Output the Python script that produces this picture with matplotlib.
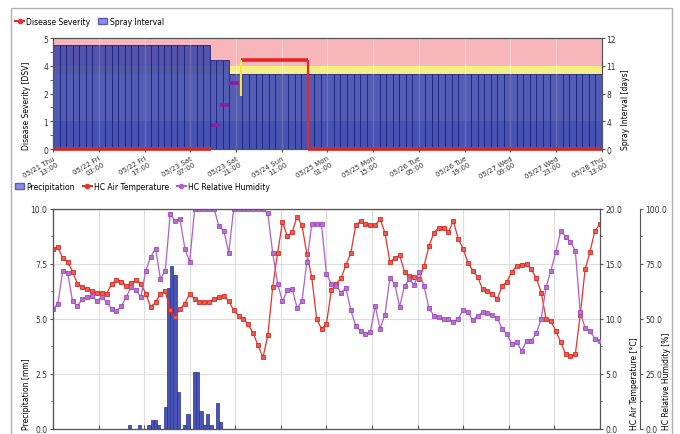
import matplotlib.pyplot as plt
import matplotlib.patches as mpatches
from matplotlib.lines import Line2D
from matplotlib.ticker import FormatStrFormatter, AutoMinorLocator
import numpy as np

# ---------------- data ----------------
tick_hours = [0, 14, 28, 42, 56, 70, 84, 98, 112, 126, 140, 154, 168]
tick_labels = ['05/21 Thu\n13:00', '05/22 Fri\n03:00', '05/22 Fri\n17:00',
               '05/23 Sat\n07:00', '05/23 Sat\n21:00', '05/24 Sun\n11:00',
               '05/25 Mon\n01:00', '05/25 Mon\n15:00', '05/26 Tue\n05:00',
               '05/26 Tue\n19:00', '05/27 Wed\n09:00', '05/27 Wed\n23:00',
               '05/28 Thu\n13:00']

# spray interval, one bar every 2 hours [days]
spray_step = 2
spray_days = [11.75] * 24 + [11.2] * 3 + [10.1] * 57

# disease severity steps
sev_start = [0, 48.5, 51, 54, 57.5, 78]
sev_end = [48.5, 51, 54, 57, 78, 168]
sev_value = [0, 1.1, 2.0, 3.0, 4.0, 0]
sev_color = ['#e8262a', '#8a1fa0', '#8a1fa0', '#8a1fa0', '#e8262a', '#e8262a']
jump_hour = [57.5, 78]
jump_from = [2.4, 4.0]
jump_to = [4.0, 0.0]
jump_color = ['#f2e64a', '#e8262a']

# hourly precipitation [mm] (hours with rain only)
rain_hour = [23, 26, 29, 30, 31, 32, 34, 35, 36, 37, 38, 40, 41, 43, 44,
             45, 46, 47, 48, 50, 51]
rain_mm = [0.2, 0.2, 0.2, 0.4, 0.4, 0.2, 1.0, 6.4, 7.4, 7.0, 1.7, 0.2, 0.7,
           2.6, 2.6, 0.8, 0.2, 0.7, 0.2, 1.2, 0.3]

# air temperature / relative humidity, every 1.5 h
meas_step = 1.5
temp = [16.4, 16.5, 15.5, 15.2, 14.3, 13.2, 12.9, 12.7, 12.5, 12.4,
        12.4, 12.3, 13.2, 13.5, 13.4, 13.0, 13.3, 13.5, 13.2, 12.3,
        11.1, 11.5, 12.3, 12.5, 10.8, 10.2, 10.9, 11.4, 12.3, 11.8,
        11.5, 11.5, 11.5, 11.8, 12.0, 12.1, 11.6, 10.8, 10.3, 10.0,
        9.5, 8.7, 7.6, 6.5, 8.5, 12.9, 16.0, 18.8, 17.5, 17.9,
        19.3, 18.5, 15.9, 13.8, 10.0, 9.1, 9.5, 12.6, 13.2, 13.7,
        14.9, 16.0, 18.5, 18.9, 18.6, 18.5, 18.5, 19.1, 17.8, 15.2,
        15.5, 15.8, 14.3, 13.9, 13.8, 13.6, 14.8, 16.6, 17.8, 18.3,
        18.3, 17.9, 18.9, 17.3, 16.4, 15.1, 14.4, 13.8, 12.7, 12.5,
        12.3, 11.8, 13.0, 13.4, 14.3, 14.8, 14.9, 15.0, 14.5, 13.7,
        12.4, 10.0, 9.8, 8.9, 7.9, 6.8, 6.6, 6.8, 10.4, 14.5,
        16.1, 18.0, 18.6]
hum = [54.5, 57, 72, 71, 58, 56, 59, 60, 60.5, 58.2,
       60, 57.7, 54.5, 53.6, 55.9, 60, 64.5, 63, 60, 72,
       78.2, 82, 68.2, 72, 97.7, 94.5, 95.5, 82, 76, 100,
       100, 100, 100, 100, 92, 90, 80, 100, 100, 100,
       100, 100, 100, 100, 98, 80, 66, 58, 63, 63.6,
       55, 58, 76, 93, 93, 93, 70.5, 66, 65, 62,
       64, 54, 47, 44.5, 43.2, 44, 56, 45.5, 52, 68.5,
       66, 55.5, 65, 68, 65.5, 71.4, 65, 55, 51.5, 51,
       50, 50, 48.8, 50, 54, 53, 49.4, 51.5, 53, 52.5,
       51.6, 50.4, 45.5, 43, 38.6, 39.5, 35.5, 40, 40, 43.5,
       50, 64.5, 72, 80.5, 90, 87.3, 85, 81, 53, 46,
       44.5, 41, 40]

# spray interval axis is not linear: days -> position
days_pts = [0, 4, 8, 11, 12]
dsv_pts = [0, 1.25, 2.5, 3.75, 5]

plt.rcParams['font.family'] = ['DejaVu Sans']
plt.rcParams['font.size'] = 5.5
plt.rcParams['axes.edgecolor'] = '#555555'
plt.rcParams['xtick.color'] = '#555555'
plt.rcParams['ytick.color'] = '#555555'
plt.rcParams['xtick.labelcolor'] = '#333333'
plt.rcParams['ytick.labelcolor'] = '#333333'

RED = '#e8322a'
PURPLE = '#b05ec8'
BAR = '#3c46aa'

fig = plt.figure(figsize=(6.8, 4.35), dpi=100)
fig.patches.append(mpatches.Rectangle((11 / 680, -0.01), 661 / 680, 1 - 9 / 435 + 0.01,
                                      transform=fig.transFigure, fill=False,
                                      edgecolor='#b0b0b0', lw=1))

# ---------------- top chart ----------------
ax = fig.add_axes([0.078, 0.655, 0.807, 0.255])
ax2 = ax.twinx()
ax2.set_yscale('function', functions=(lambda d: np.interp(d, days_pts, dsv_pts),
                                      lambda s: np.interp(s, dsv_pts, days_pts)))
ax2.set_ylim(0, 12)
ax2.axhspan(11, 12, color='#f6b6ba', lw=0)
ax2.axhspan(10.1, 11, color='#f7ef86', lw=0)
ax2.axhspan(0, 4, color='#8fb2f4', lw=0)
spray_hours = np.arange(len(spray_days)) * spray_step
ax2.bar(spray_hours, spray_days, width=spray_step, align='edge', color=BAR,
        alpha=0.88, edgecolor='#1d2580', lw=0.7)
for h in tick_hours[1:-1]:
    ax2.axvline(h, color='white', alpha=0.35, lw=0.8)
ax2.set_yticks(days_pts)
ax2.set_yticklabels([str(d) for d in days_pts])
ax2.set_ylabel('Spray Interval [days]', loc='bottom')
ax2.yaxis.set_label_coords(1.035, 0)

ax.set_zorder(ax2.get_zorder() + 1)
ax.patch.set_visible(False)
ax.hlines(sev_value, sev_start, sev_end, colors=sev_color, lw=2.6, clip_on=False)
ax.vlines(jump_hour, jump_from, jump_to, colors=jump_color, lw=1.6)
ax.set_xlim(0, 168)
ax.set_ylim(0, 5)
ax.set_yticks(dsv_pts)
ax.yaxis.set_major_formatter(FormatStrFormatter('%.0f'))
ax.yaxis.set_minor_locator(AutoMinorLocator(2))
ax.set_ylabel('Disease Severity [DSV]', loc='bottom')
ax.yaxis.set_label_coords(-0.04, 0)
ax.set_xticks(tick_hours)
ax.set_xticklabels(tick_labels, rotation=30, ha='right', rotation_mode='anchor',
                   fontsize=5)
ax.tick_params(axis='x', length=2, pad=2)
ax.tick_params(axis='y', length=2, pad=1.5)
ax2.tick_params(axis='y', length=2, pad=1.5)

top_handles = [Line2D([], [], color=RED, marker='o', ms=3, lw=1.5),
               mpatches.Patch(facecolor='#8c8ce0', edgecolor='#5c5cb0')]
fig.legend(top_handles, ['Disease Severity', 'Spray Interval'], loc='center left',
           bbox_to_anchor=(0.012, 0.949), ncol=2, frameon=False, fontsize=5.5,
           handlelength=1.2, handleheight=0.8, columnspacing=1.0, handletextpad=0.3)

# ---------------- bottom chart ----------------
ax3 = fig.add_axes([0.078, 0.0115, 0.804, 0.506])
ax4 = ax3.twinx()
ax5 = ax3.twinx()
ax5.spines['right'].set_position(('axes', 1.073))

meas_hours = np.arange(len(temp)) * meas_step
ax3.bar(rain_hour, rain_mm, width=1, align='edge', color='#4b55b8',
        edgecolor='#262f8c', lw=0.5, zorder=3)
ax4.plot(meas_hours, temp, color=RED, lw=0.9, marker='s', ms=3,
         markerfacecolor='#f05a50', markeredgecolor='#d42a22', markeredgewidth=0.6)
ax5.plot(meas_hours, hum, color=PURPLE, lw=0.9, marker='s', ms=3,
         markerfacecolor='#bb70d4', markeredgecolor='#9a48b8', markeredgewidth=0.6)

ax3.set_xlim(0, 168)
ax3.set_ylim(0, 10)
ax4.set_ylim(0, 20)
ax5.set_ylim(0, 100)
ax3.set_yticks([0, 2.5, 5, 7.5, 10])
ax4.set_yticks([0, 5, 10, 15, 20])
ax5.set_yticks([0, 25, 50, 75, 100])
for a in (ax3, ax4, ax5):
    a.yaxis.set_major_formatter(FormatStrFormatter('%.1f'))
    a.yaxis.set_minor_locator(AutoMinorLocator(2))
    a.tick_params(axis='y', which='major', length=2.5, pad=1.5)
    a.tick_params(axis='y', which='minor', length=1.5)
ax3.set_xticks(tick_hours)
ax3.set_xticklabels([])
ax3.tick_params(axis='x', direction='in', length=3)
ax3.grid(True, color='#dddddd', lw=0.8)
ax3.set_axisbelow(True)

ax3.set_ylabel('Precipitation [mm]', loc='bottom')
ax3.yaxis.set_label_coords(-0.04, 0)
ax4.set_ylabel('HC Air Temperature [\u00b0C]', loc='bottom')
ax4.yaxis.set_label_coords(1.055, 0)
ax5.set_ylabel('HC Relative Humidity [%]', loc='bottom')
ax5.yaxis.set_label_coords(1.114, 0)

bot_handles = [mpatches.Patch(facecolor='#8c8ce0', edgecolor='#5c5cb0'),
               Line2D([], [], color=RED, marker='o', ms=3, lw=1.5),
               Line2D([], [], color=PURPLE, marker='o', ms=3, lw=1.5)]
fig.legend(bot_handles, ['Precipitation', 'HC Air Temperature', 'HC Relative Humidity'],
           loc='center left', bbox_to_anchor=(0.012, 0.570), ncol=3, frameon=False,
           fontsize=5.5, handlelength=1.2, handleheight=0.8, columnspacing=1.0,
           handletextpad=0.3)

fig.savefig('out.png', dpi=100)
